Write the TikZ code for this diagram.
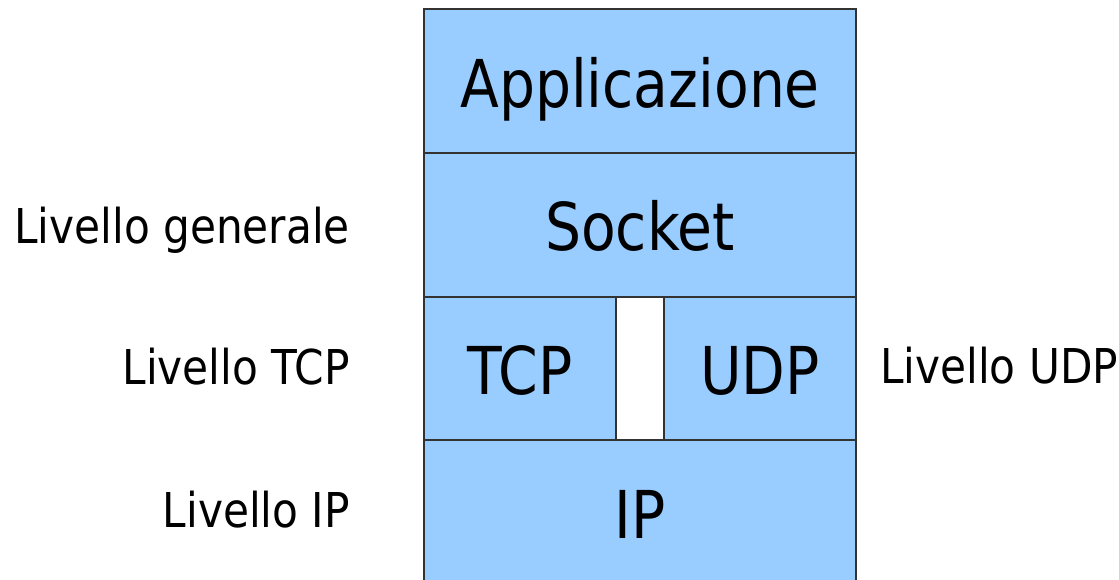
\documentclass[tikz,border=0pt]{standalone}
\usepackage{fontspec}
\setmainfont{DejaVu Sans}
\newfontfamily\narrowfont[FakeStretch=0.86]{DejaVu Sans}
\newfontfamily\labelfont[FakeStretch=0.88]{DejaVu Sans}
\begin{document}
\begin{tikzpicture}[x=1pt,y=-1pt,
  cell/.style={draw=black!80,line width=1.3pt,fill=cellblue,inner sep=0pt,
    font=\narrowfont\fontsize{66}{70}\selectfont,text height=48pt,text depth=0pt},
  gapcell/.style={draw=black!80,line width=1.3pt,fill=white,inner sep=0pt},
  lbl/.style={inner sep=0pt,font=\labelfont\fontsize{48}{52}\selectfont,text height=35pt,text depth=0pt}]
\definecolor{cellblue}{HTML}{99CCFF}
\useasboundingbox (0,0) rectangle (1119,579);
\clip (0,0) rectangle (1119,579);
\node[cell,minimum width=432pt,minimum height=144pt] (app) at (640,81) {};
\node[cell,minimum width=432pt,minimum height=144pt] (sock) at (640,225) {};
\node[cell,minimum width=192pt,minimum height=143pt] (tcp) at (520,368.5) {};
\node[gapcell,minimum width=48pt,minimum height=143pt] (gap) at (640,368.5) {};
\node[cell,minimum width=192pt,minimum height=143pt] (udp) at (760,368.5) {};
\node[cell,minimum width=432pt,minimum height=144pt] (ip) at (640,512) {};
\node[cell,draw=none,fill=none] (tapp) at ([yshift=-2pt]app.center) {Applicazione};
\node[cell,draw=none,fill=none] (tsock) at ([yshift=-1pt]sock.center) {Socket};
\node[cell,draw=none,fill=none] (ttcp) at ([yshift=-2pt]tcp.center) {TCP};
\node[cell,draw=none,fill=none] (tudp) at ([yshift=-2pt]udp.center) {UDP};
\node[cell,draw=none,fill=none] (tip) at ([yshift=-2pt]ip.center) {IP};
\node[lbl,anchor=east] (lgen) at (350,225.5) {Livello generale};
\node[lbl,anchor=east] (ltcp) at (350,367) {Livello TCP};
\node[lbl,anchor=east] (lip) at (350,510) {Livello IP};
\node[lbl,anchor=west] (ludp) at (880,366) {Livello UDP};
\end{tikzpicture}
\end{document}
